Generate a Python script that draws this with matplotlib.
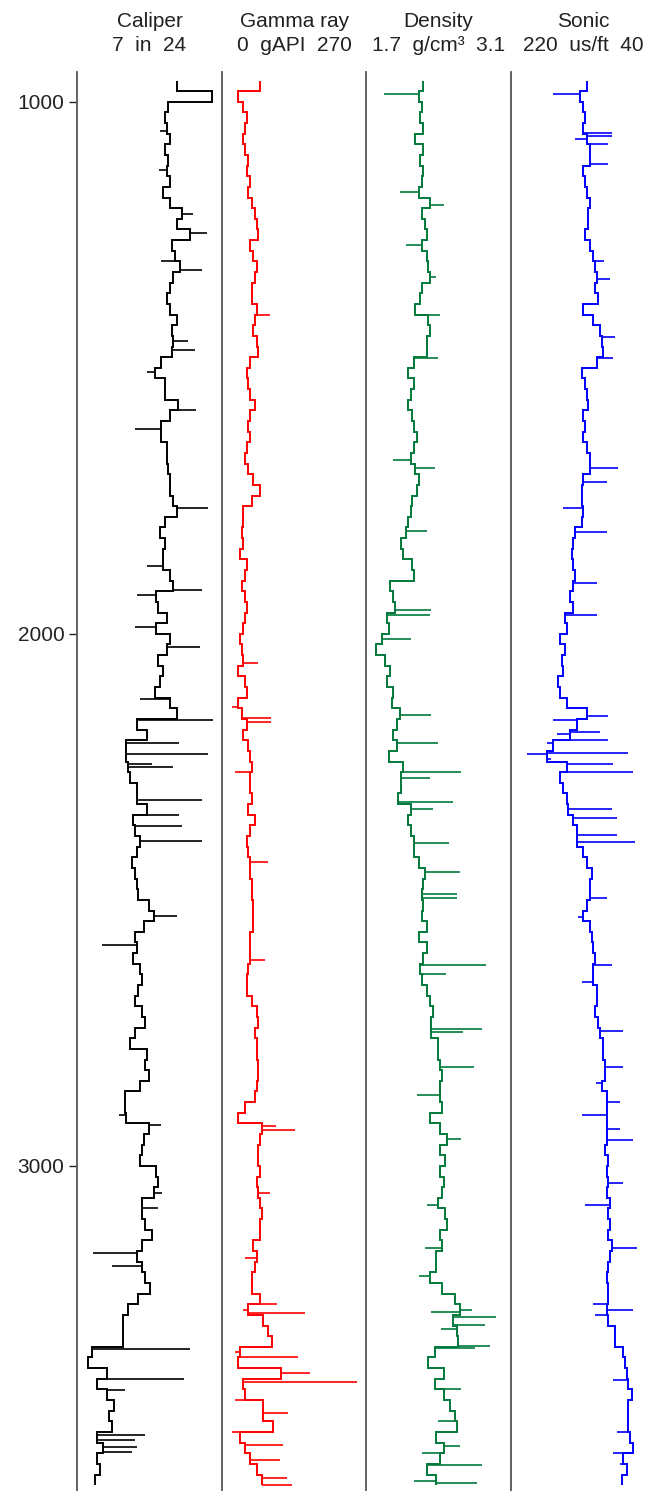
import numpy as np
import matplotlib.pyplot as plt

plt.rcParams['font.family'] = ['Liberation Sans', 'DejaVu Sans']

# sample depths (ft), one reading every 20 ft
depth = np.arange(970, 3591, 20)

caliper = [
    18.7, 22.8, 17.7, 17.3, 17.5, 17.9, 17.3, 17.7, 17.5, 17.9,
    17.1, 17.9, 19.3, 18.7, 20.2, 18.1, 18.5, 19.1, 18.3, 17.9,
    17.5, 17.9, 18.7, 18.1, 18.3, 18.1, 16.9, 16.1, 17.3, 17.3,
    18.9, 17.9, 16.9, 16.9, 17.5, 17.5, 17.7, 17.9, 17.9, 18.3,
    18.7, 17.3, 16.7, 17.3, 17.1, 17.1, 17.9, 18.3, 16.3, 16.5,
    17.5, 16.3, 17.9, 17.5, 16.5, 17.1, 16.7, 16.1, 17.9, 18.7,
    14.0, 15.2, 12.8, 12.8, 13.0, 13.2, 14.0, 14.0, 15.2, 13.6,
    13.8, 14.4, 14.0, 13.4, 13.8, 14.0, 14.2, 15.4, 16.0, 14.8,
    13.8, 14.0, 13.6, 14.4, 14.6, 14.2, 13.8, 14.6, 15.0, 13.8,
    13.2, 15.2, 15.0, 15.4, 14.4, 12.6, 12.6, 12.8, 15.4, 14.8,
    14.6, 14.4, 16.3, 16.5, 16.0, 14.6, 14.6, 15.0, 15.8, 14.6,
    14.0, 14.6, 15.0, 15.6, 14.2, 13.0, 12.4, 12.4, 12.4, 8.7,
    8.3, 10.5, 9.3, 10.5, 11.3, 10.7, 11.1, 9.3, 10.1, 9.3,
    9.7, 9.1]

gamma = [
    71, 30.5, 39.8, 46, 43, 39.8, 43, 49, 46, 52,
    49, 55, 61.5, 64.6, 67.7, 52, 58, 64.6, 61.5, 55,
    55, 64.6, 61.5, 58, 64.6, 67.7, 52, 46, 49, 52,
    61.5, 52, 49, 52, 46, 43, 49, 58, 71, 55,
    39.8, 39.8, 36.7, 39.8, 33.6, 46, 43, 36.7, 43, 46,
    43, 39.8, 33.6, 36.7, 39.8, 30.5, 43, 46, 30.5, 36.7,
    46, 39.8, 49, 52, 55, 52, 52, 55, 49, 61.5,
    52, 46, 49, 52, 52, 55, 55, 58, 58, 57,
    52, 52, 52, 49, 46, 46, 55, 64.6, 67.7, 61.5,
    64.6, 64.6, 67.7, 67.7, 64.6, 61.5, 43, 30.5, 74, 71,
    67.7, 67.7, 71, 64.6, 67.7, 71, 74, 71, 71, 58,
    64.6, 61.5, 55, 55, 71, 49, 77, 86, 92.5, 33.6,
    30.5, 110, 39.8, 43, 77, 77, 95.6, 33.6, 43, 52,
    64.6, 74]

density = [
    2.25, 2.21, 2.24, 2.22, 2.25, 2.17, 2.25, 2.22, 2.25, 2.24,
    2.21, 2.32, 2.24, 2.27, 2.29, 2.24, 2.29, 2.30, 2.32, 2.24,
    2.22, 2.17, 2.30, 2.32, 2.29, 2.29, 2.16, 2.11, 2.16, 2.13,
    2.11, 2.14, 2.16, 2.19, 2.16, 2.13, 2.17, 2.21, 2.19, 2.14,
    2.13, 2.11, 2.09, 2.04, 2.06, 2.14, 2.16, 1.93, 1.96, 1.98,
    1.90, 1.92, 1.85, 1.80, 1.88, 1.93, 1.90, 1.96, 1.95, 2.03,
    2.00, 1.96, 2.00, 1.92, 2.06, 2.04, 2.04, 2.01, 2.13, 2.11,
    2.13, 2.16, 2.16, 2.21, 2.27, 2.25, 2.24, 2.25, 2.24, 2.29,
    2.21, 2.29, 2.25, 2.22, 2.24, 2.29, 2.32, 2.35, 2.33, 2.33,
    2.40, 2.40, 2.41, 2.43, 2.41, 2.41, 2.43, 2.32, 2.41, 2.48,
    2.41, 2.46, 2.41, 2.45, 2.43, 2.40, 2.46, 2.48, 2.41, 2.43,
    2.38, 2.38, 2.32, 2.43, 2.56, 2.61, 2.54, 2.58, 2.59, 2.37,
    2.30, 2.45, 2.37, 2.45, 2.51, 2.56, 2.58, 2.38, 2.45, 2.41,
    2.29, 2.38]

sonic = [
    126.1, 134.4, 130.2, 128.0, 130.2, 126.1, 121.9, 121.9, 130.2, 128.0,
    126.1, 121.9, 124.0, 124.0, 128.0, 121.9, 117.8, 115.7, 113.7, 115.7,
    111.6, 130.2, 117.8, 109.5, 107.4, 105.4, 113.7, 132.3, 128.0, 126.1,
    124.0, 130.2, 128.0, 130.2, 126.1, 121.9, 121.9, 130.2, 132.3, 132.3,
    130.2, 132.3, 140.6, 142.6, 144.7, 142.6, 140.6, 142.6, 146.7, 142.6,
    153.0, 150.9, 159.2, 153.0, 157.1, 155.0, 161.2, 159.2, 150.9, 126.1,
    138.5, 146.7, 167.4, 175.7, 150.9, 159.2, 155.0, 150.9, 148.8, 142.6,
    138.5, 138.5, 130.2, 126.1, 119.9, 121.9, 121.9, 126.1, 130.2, 121.9,
    119.9, 117.8, 115.7, 117.8, 117.8, 113.7, 113.7, 115.7, 111.6, 109.5,
    105.4, 105.4, 103.3, 103.3, 107.4, 101.2, 101.2, 101.2, 101.2, 101.2,
    103.3, 99.2, 101.2, 99.2, 101.2, 97.1, 99.2, 97.1, 99.2, 95.0,
    97.1, 99.2, 101.2, 99.2, 99.2, 101.2, 99.2, 90.9, 90.9, 80.5,
    78.5, 76.4, 74.3, 70.2, 74.3, 74.3, 74.3, 72.2, 68.1, 80.5,
    76.4, 82.6]

# single-sample spikes (depth, value)
cal_spike_d = [1055, 1128, 1210, 1247, 1300, 1316, 1450, 1466, 1507, 1579, 1615,
               1764, 1872, 1917, 1927, 1988, 2024, 2123, 2162, 2205, 2226, 2245, 2250,
               2313, 2340, 2362, 2390, 2531, 2585, 2904, 2923,
               3050, 3080, 3163, 3188, 3344, 3400, 3421, 3506, 3515, 3528, 3537]
cal_spike_v = [16.7, 16.6, 20.6, 22.2, 16.9, 21.6, 20.0, 20.8, 15.2, 21.0, 13.8,
               22.4, 15.2, 21.6, 14.0, 13.8, 21.4, 14.4, 23.0, 19.0, 22.4, 15.8, 18.2,
               21.6, 19.0, 19.3, 21.6, 18.7, 9.9, 11.9, 16.9,
               17.0, 16.5, 8.9, 11.1, 20.2, 19.5, 12.6, 15.0, 13.8, 14.0, 13.4]

gr_spike_d = [1400, 2055, 2137, 2158, 2166, 2259, 2429, 2613, 2925, 2932, 3050,
              3174, 3260, 3271, 3277, 3350, 3360, 3390, 3407, 3440, 3465, 3500,
              3524, 3553, 3587, 3600]
gr_spike_v = [89, 67.7, 18, 92, 92, 24.2, 86.3, 80, 100, 136, 90,
              43, 102, 39.8, 154.6, 25, 142, 164, 250.8, 24, 123.5, 18,
              114, 108, 120.5, 130]

den_spike_d = [985, 1170, 1194, 1270, 1330, 1400, 1482,
               1673, 1688, 1807, 1955, 1965, 2010, 2153, 2205, 2260, 2271,
               2316, 2330, 2393, 2448, 2489, 2497, 2622, 2640, 2743, 2748, 2815, 2867, 2950,
               3073, 3155, 3207, 3270, 3275, 3284, 3299, 3307, 3338, 3342, 3420, 3480,
               3527, 3540, 3562, 3593, 3596]
den_spike_v = [1.87, 2.03, 2.45, 2.09, 2.38, 2.41, 2.40,
               1.96, 2.37, 2.29, 2.33, 2.32, 2.13, 2.33, 2.40, 2.62, 2.32,
               2.54, 2.35, 2.50, 2.61, 2.58, 2.58, 2.86, 2.47, 2.82, 2.64, 2.74, 2.19, 2.62,
               2.29, 2.27, 2.21, 2.72, 2.33, 2.96, 2.85, 2.42, 2.90, 2.75, 2.62, 2.40,
               2.61, 2.24, 2.82, 2.16, 2.77]

son_spike_d = [985, 1059, 1064, 1069, 1079, 1116, 1300, 1333, 1442, 1482,
               1689, 1714, 1764, 1808, 1904, 1964, 2154, 2162, 2184, 2188, 2200,
               2206, 2224, 2226, 2235, 2245, 2260,
               2330, 2346, 2378, 2392, 2497, 2533, 2622, 2655, 2747, 2815, 2845,
               2880, 2904, 2930, 2951,
               3033, 3073, 3155, 3260, 3271, 3280, 3402, 3500, 3540, 3560]
son_spike_v = [167.4, 95.0, 95.0, 140.5, 99.2, 99.2, 104.0, 97.1, 90.9, 93.0,
               86.7, 101.2, 155.0, 101.2, 113.7, 113.7, 99.2, 167.4, 109.5, 163.3, 100.0,
               175.7, 74.4, 200.5, 170.0, 93.0, 68.1,
               95.0, 88.8, 88.8, 66.0, 101.2, 136.5, 95.0, 132.3, 80.5, 80.5, 115.0,
               85.0, 132.3, 85.0, 68.1,
               80.5, 128.0, 64.0, 118.0, 68.1, 116.0, 93.0, 88.0, 93.0, 85.0]

tracks = [
    ('Caliper', '7  in  24', caliper, cal_spike_d, cal_spike_v, 'black', (7, 24)),
    ('Gamma ray', '0  gAPI  270', gamma, gr_spike_d, gr_spike_v, '#ff0000', (0, 270)),
    ('Density', '1.7  g/cm\u00b3  3.1', density, den_spike_d, den_spike_v, '#00793a', (1.7, 3.1)),
    ('Sonic', '220  us/ft  40', sonic, son_spike_d, son_spike_v, '#0000ff', (220, 40)),
]

W, H = 654, 1491
fig = plt.figure(figsize=(W / 100, H / 100), dpi=100)

edges = np.append(depth - 10, depth[-1] + 10)
lefts = [77, 222, 366, 511]
panel_w = 145
top_px = 72

for i, (name, scale, vals, sd, sv, col, xlim) in enumerate(tracks):
    ax = fig.add_axes([lefts[i] / W, 0, panel_w / W, (H - top_px) / H])
    vals = np.asarray(vals, dtype=float)
    ax.stairs(vals, edges, orientation='horizontal', baseline=None,
              color=col, lw=1.4)
    # spikes start from the stair value at that depth
    idx = np.clip(np.searchsorted(edges, sd) - 1, 0, len(vals) - 1)
    ax.hlines(sd, vals[idx], sv, color=col, lw=1.2)

    ax.set_xlim(*xlim)
    ax.set_ylim(3611, 944)
    for s in ['top', 'right', 'bottom']:
        ax.spines[s].set_visible(False)
    ax.spines['left'].set_color('#555555')
    ax.spines['left'].set_linewidth(1.3)
    ax.set_xticks([])
    if i == 0:
        ax.set_yticks([1000, 2000, 3000])
        ax.tick_params(axis='y', length=6, width=1, pad=3, labelsize=15,
                       colors='#222222')
    else:
        ax.set_yticks([])

    cx = (lefts[i] + panel_w / 2) / W
    fig.text(cx, 1 - 27 / H, name, ha='center', va='baseline', fontsize=15,
             color='#222222')
    fig.text(cx, 1 - 51 / H, scale, ha='center', va='baseline', fontsize=15,
             color='#222222')

fig.savefig('out.png', dpi=100)
